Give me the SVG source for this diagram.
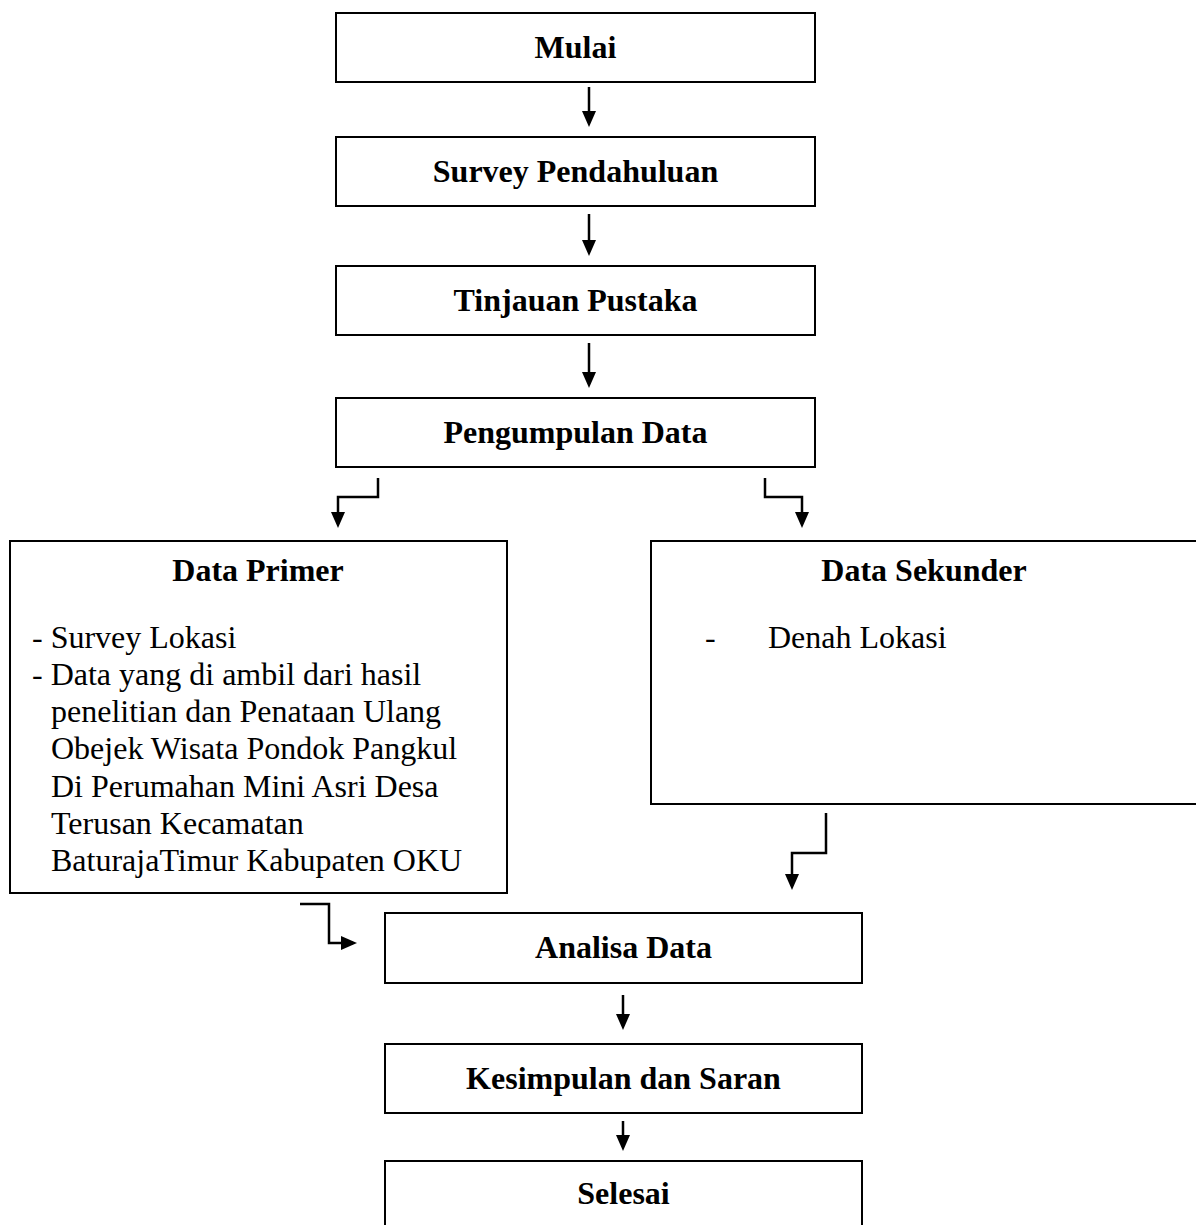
<svg xmlns="http://www.w3.org/2000/svg" width="1196" height="1225" viewBox="0 0 1196 1225">
<style>
.box{fill:#fff;stroke:#000;stroke-width:2}
.h{font-family:"Liberation Serif","Times New Roman",serif;font-size:32px;font-weight:bold;text-anchor:middle;fill:#000}
.t{font-family:"Liberation Serif","Times New Roman",serif;font-size:32px;fill:#000}
.c{fill:none;stroke:#000;stroke-width:2.5}
</style>
<defs>
<marker id="ah" markerUnits="userSpaceOnUse" markerWidth="16" markerHeight="14" viewBox="0 0 16 14" refX="12" refY="7" orient="auto">
<path d="M0,0 L16,7 L0,14 z" fill="#000"/>
</marker>
</defs>
<rect width="1196" height="1225" fill="#fff"/>
<g id="mulai"><rect class="box" x="336" y="13" width="479" height="69"/><text class="h" x="575.5" y="58">Mulai</text></g>
<g id="survey"><rect class="box" x="336" y="137" width="479" height="69"/><text class="h" x="575.5" y="182">Survey Pendahuluan</text></g>
<g id="tinjauan"><rect class="box" x="336" y="266" width="479" height="69"/><text class="h" x="575.5" y="311">Tinjauan Pustaka</text></g>
<g id="pengumpulan"><rect class="box" x="336" y="398" width="479" height="69"/><text class="h" x="575.5" y="443">Pengumpulan Data</text></g>
<g id="primer"><rect class="box" x="10" y="541" width="497" height="352"/>
<text class="h" x="258" y="581">Data Primer</text>
<text class="t" x="32" y="648">- Survey Lokasi</text>
<text class="t" x="32" y="685">- Data yang di ambil dari hasil</text>
<text class="t" x="51" y="722">penelitian dan Penataan Ulang</text>
<text class="t" x="51" y="759">Obejek Wisata Pondok Pangkul</text>
<text class="t" x="51" y="797">Di Perumahan Mini Asri Desa</text>
<text class="t" x="51" y="834">Terusan Kecamatan</text>
<text class="t" x="51" y="871">BaturajaTimur Kabupaten OKU</text>
</g>
<g id="sekunder"><rect class="box" x="651" y="541" width="560" height="263"/>
<text class="h" x="924" y="581">Data Sekunder</text>
<text class="t" x="705" y="648">-</text>
<text class="t" x="768" y="648">Denah Lokasi</text>
</g>
<g id="analisa"><rect class="box" x="385" y="913" width="477" height="70"/><text class="h" x="623.5" y="958">Analisa Data</text></g>
<g id="kesimpulan"><rect class="box" x="385" y="1044" width="477" height="69"/><text class="h" x="623.5" y="1089">Kesimpulan dan Saran</text></g>
<g id="selesai"><rect class="box" x="385" y="1161" width="477" height="80"/><text class="h" x="623.5" y="1204">Selesai</text></g>
<g id="connectors">
<path class="c" d="M589,87 V123" marker-end="url(#ah)"/>
<path class="c" d="M589,214 V252" marker-end="url(#ah)"/>
<path class="c" d="M589,343 V384" marker-end="url(#ah)"/>
<path class="c" d="M378,478 V497 H338 V524" marker-end="url(#ah)"/>
<path class="c" d="M765,478 V497 H802 V524" marker-end="url(#ah)"/>
<path class="c" d="M826,813 V853 H792 V886" marker-end="url(#ah)"/>
<path class="c" d="M300,904 H329 V943 H353" marker-end="url(#ah)"/>
<path class="c" d="M623,995 V1026" marker-end="url(#ah)"/>
<path class="c" d="M623,1121 V1147" marker-end="url(#ah)"/>
</g>
</svg>
